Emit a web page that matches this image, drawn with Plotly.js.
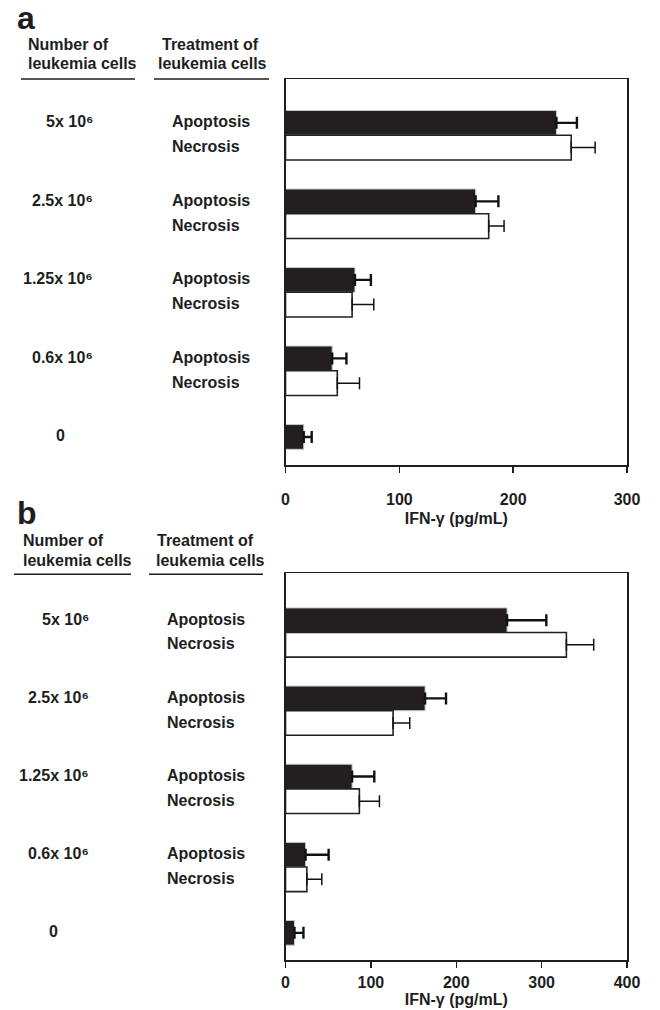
<!DOCTYPE html>
<html>
<head>
<meta charset="utf-8">
<script src="https://cdn.plot.ly/plotly-3.0.1.min.js"></script>
<style>html,body{margin:0;padding:0;background:#fff;}#chart{width:660px;height:1010px;}</style>
</head>
<body>
<div id="chart"></div>
<script>
// ---- data ----
const categories = ['5e6', '2.5e6', '1.25e6', '0.6e6', '0'];
const groupLabels = ['5x 10⁶', '2.5x 10⁶', '1.25x 10⁶', '0.6x 10⁶', '0'];
const treatments = ['Apoptosis', 'Necrosis'];

// Panel a (IFN-gamma, pg/mL)
const apoptosisA = [238, 167, 61, 41, 16];
const apoptosisErrA = [18, 20, 14, 12.5, 7];
const necrosisA = [251, 178.5, 58.5, 45.5, null];
const necrosisErrA = [21, 13.5, 19, 19.5, null];

// Panel b (IFN-gamma, pg/mL)
const apoptosisB = [259.5, 163.5, 78, 23.5, 10.5];
const apoptosisErrB = [46, 24.5, 26, 27, 10.5];
const necrosisB = [329, 126, 86.5, 25, null];
const necrosisErrB = [32, 19.5, 23.5, 17.5, null];

const xTicksA = [0, 100, 200, 300];
const xTicksB = [0, 100, 200, 300, 400];

// ---- layout helpers ----
const W = 660, H = 1010;
const px = v => v / W;
const py = v => 1 - v / H;
const FONT = 'Liberation Sans, Arial, sans-serif';
const INK = '#1e1e1e';
const BARGAP = 0.37;
const OFF = (1 - BARGAP) / 4;
const zeros = a => a.map(v => (v === null ? null : 0));

// panel frames (pixels) and category ranges [bottom, top]
const frameA = {top: 79, bottom: 465, range: [4.2, -0.716]};
const frameB = {top: 573.3, bottom: 960, range: [4.19, -0.758]};
// category position -> page pixel y (for the text labels beside the bars)
const catY = (f, v) => f.top + (v - f.range[1]) / (f.range[0] - f.range[1]) * (f.bottom - f.top);

function bars(x, err, name, xa, ya, dark) {
  return {
    type: 'bar', orientation: 'h', name: name,
    y: categories, x: x, xaxis: xa, yaxis: ya,
    marker: dark
      ? {color: '#231f20', line: {color: '#c8c8c8', width: 1}}
      : {color: '#ffffff', line: {color: '#222222', width: 1.6}},
    error_x: {type: 'data', symmetric: false, array: err, arrayminus: zeros(err),
              color: '#111', thickness: dark ? 2.4 : 1.5, width: 6},
    showlegend: false, hoverinfo: 'x'
  };
}

const data = [
  bars(apoptosisA, apoptosisErrA, treatments[0], 'x', 'y', true),
  bars(necrosisA, necrosisErrA, treatments[1], 'x', 'y', false),
  bars(apoptosisB, apoptosisErrB, treatments[0], 'x2', 'y2', true),
  bars(necrosisB, necrosisErrB, treatments[1], 'x2', 'y2', false)
];

function xAxis(ticks, range, yAnchor, standoff, titleStandoff) {
  return {
    domain: [0.4326, 0.9500], anchor: yAnchor, range: range,
    tickmode: 'array', tickvals: ticks, ticktext: ticks.map(String),
    ticks: 'outside', ticklen: 6, tickwidth: 1.5, tickcolor: INK,
    ticklabelstandoff: standoff,
    showline: true, mirror: true, linecolor: INK, linewidth: 1.5,
    showgrid: false, zeroline: false, fixedrange: true,
    tickfont: {family: FONT, size: 16, color: INK, weight: 'bold'},
    title: {text: 'IFN-γ (pg/mL)', standoff: titleStandoff,
            font: {family: FONT, size: 16, color: INK, weight: 'bold'}}
  };
}
function yAxis(f, xAnchor) {
  return {
    domain: [py(f.bottom), py(f.top)], anchor: xAnchor, type: 'category',
    categoryorder: 'array', categoryarray: categories, range: f.range,
    showticklabels: false, ticks: '',
    showline: true, mirror: true, linecolor: INK, linewidth: 1.5,
    showgrid: false, zeroline: false, fixedrange: true
  };
}

const annotations = [];
const shapes = [];
function txt(x, y, text, opts) {
  annotations.push(Object.assign({
    xref: 'paper', yref: 'paper', x: px(x), y: py(y), text: text,
    showarrow: false, xanchor: 'left', yanchor: 'middle',
    font: {family: FONT, size: 16, color: INK, weight: 'bold'}
  }, opts || {}));
}
function rule(x0, x1, y) {
  shapes.push({type: 'line', xref: 'paper', yref: 'paper',
    x0: px(x0), x1: px(x1), y0: py(y), y1: py(y),
    line: {color: INK, width: 1.5}});
}

function panel(letter, top, hdr, frame, numRight, zeroCenter, treatX) {
  txt(15, top, letter, {font: {family: FONT, size: 32, color: INK, weight: 'bold'}});
  txt(hdr.nx, hdr.y1, 'Number of');
  txt(hdr.nx, hdr.y2, 'leukemia cells');
  txt(hdr.tx, hdr.y1, 'Treatment of');
  txt(hdr.tx2, hdr.y2, 'leukemia cells');
  rule(hdr.r1[0], hdr.r1[1], hdr.ry);
  rule(hdr.r2[0], hdr.r2[1], hdr.ry);
  categories.forEach((c, i) => {
    const isZero = groupLabels[i] === '0';
    txt(isZero ? zeroCenter : numRight, catY(frame, i - OFF) - 1, groupLabels[i],
        {xanchor: isZero ? 'center' : 'right'});
    if (!isZero) {
      treatments.forEach((t, k) => {
        txt(treatX, catY(frame, i + (k === 0 ? -OFF : OFF)) - 1, t);
      });
    }
  });
}

panel('a', 18, {nx: 26, tx: 160, tx2: 156, y1: 44, y2: 63, ry: 79, r1: [21, 135], r2: [154, 269]},
      frameA, 95, 60, 170);
panel('b', 513, {nx: 21, tx: 155, tx2: 154, y1: 540, y2: 560, ry: 574.3, r1: [14, 131], r2: [149, 263]},
      frameB, 91, 53, 165);

const layout = {
  width: W, height: H,
  margin: {l: 0, r: 0, t: 0, b: 0},
  paper_bgcolor: '#ffffff', plot_bgcolor: '#ffffff',
  barmode: 'group', bargap: BARGAP, bargroupgap: 0,
  showlegend: false,
  font: {family: FONT, color: INK, size: 16},
  xaxis: xAxis(xTicksA, [0, 300], 'y', 13, 6),
  yaxis: yAxis(frameA, 'x'),
  xaxis2: xAxis(xTicksB, [0, 400], 'y2', 1, 0),
  yaxis2: yAxis(frameB, 'x2'),
  annotations: annotations,
  shapes: shapes
};

Plotly.newPlot('chart', data, layout, {displayModeBar: false, staticPlot: true});
</script>
</body>
</html>
